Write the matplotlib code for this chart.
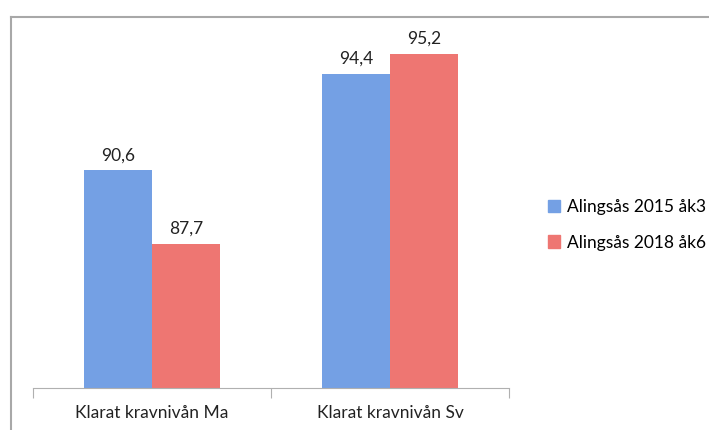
import matplotlib.pyplot as plt
from matplotlib.lines import Line2D
from matplotlib.patches import Patch
import numpy as np

# data
categories = ["Klarat kravnivån Ma", "Klarat kravnivån Sv"]
series_names = ["Alingsås 2015 åk3", "Alingsås 2018 åk6"]
values_2015 = [90.6, 94.4]
values_2018 = [87.7, 95.2]
colors = ["#74a0e4", "#ee7672"]

plt.rcParams['font.family'] = ['Lato', 'DejaVu Sans']

fig = plt.figure(figsize=(7.09, 4.30), dpi=100)
W, H = 709, 430
ax = fig.add_axes([33 / W, 42 / H, (509 - 33) / W, (388 - 33.4) / H])

x = np.arange(len(categories))
bw = 68 / 238
b1 = ax.bar(x - bw / 2, values_2015, bw, color=colors[0])
b2 = ax.bar(x + bw / 2, values_2018, bw, color=colors[1])

# värden ovanför staplarna, med decimalkomma
for bars in (b1, b2):
    for b in bars:
        v = b.get_height()
        ax.annotate(f"{v:.1f}".replace(".", ","),
                    (b.get_x() + b.get_width() / 2, v),
                    xytext=(0, 5), textcoords="offset points",
                    ha="center", va="bottom", fontsize=12.5, color="#222222")

ax.set_ylim(82, 96)
ax.set_xlim(-0.5, len(categories) - 0.5)
for s in ["top", "right", "left"]:
    ax.spines[s].set_visible(False)
ax.spines["bottom"].set_color("#b0b0b0")
ax.set_yticks([])
ax.set_xticks(np.arange(len(categories) + 1) - 0.5)
ax.set_xticklabels([])
ax.tick_params(axis="x", length=7, color="#b0b0b0")
for i, c in enumerate(categories):
    ax.text(i, -0.07, c, transform=ax.get_xaxis_transform(),
            ha="center", va="center", fontsize=12.5, color="#222222")

handles = [Patch(color=colors[0]), Patch(color=colors[1])]
fig.legend(handles, series_names, loc="center left",
           bbox_to_anchor=(532 / W, 1 - 225 / H), frameon=False,
           fontsize=12.5, handlelength=0.7, handleheight=0.7,
           handletextpad=0.4, labelspacing=1.1)

# ram runt diagrammet (bara vänster och överkant syns)
fig.add_artist(Line2D([11 / W, 11 / W], [0, 1 - 17 / H],
                      transform=fig.transFigure, color="#a8a8a8", lw=1.5))
fig.add_artist(Line2D([11 / W, 1], [1 - 17 / H, 1 - 17 / H],
                      transform=fig.transFigure, color="#a8a8a8", lw=1.5))

fig.savefig("out.png", dpi=100)
